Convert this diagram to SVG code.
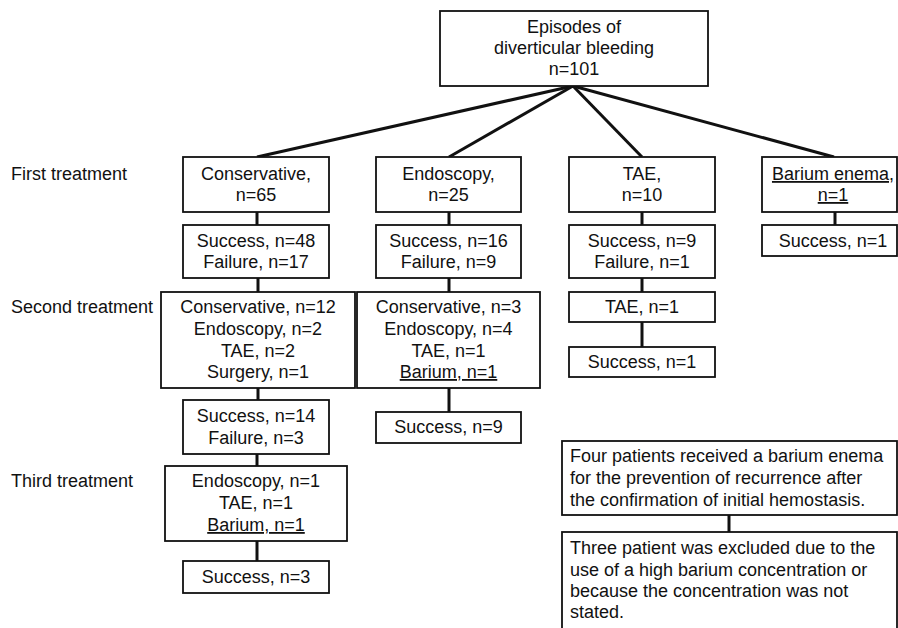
<svg xmlns="http://www.w3.org/2000/svg" width="898" height="628" viewBox="0 0 898 628">
<style>
  text { font-family: "Liberation Sans", Arial, sans-serif; font-size: 18px; fill: #111; }
  .c { text-anchor: middle; }
  .u { text-decoration: underline; }
  rect { fill: #fff; stroke: #111; stroke-width: 1.8; }
  .edge { stroke: #111; stroke-width: 3; fill: none; }
</style>
<rect x="0" y="0" width="898" height="628" style="fill:#fff;stroke:none"/>

<g id="connectors">
  <line class="edge" x1="573" y1="86" x2="257" y2="157"/>
  <line class="edge" x1="573" y1="86" x2="449" y2="157"/>
  <line class="edge" x1="573" y1="86" x2="642" y2="157"/>
  <line class="edge" x1="573" y1="86" x2="834" y2="157"/>
  <line class="edge" x1="257" y1="212" x2="257" y2="225"/>
  <line class="edge" x1="449" y1="212" x2="449" y2="225"/>
  <line class="edge" x1="642" y1="212" x2="642" y2="225"/>
  <line class="edge" x1="835" y1="212" x2="835" y2="225"/>
  <line class="edge" x1="258" y1="278" x2="258" y2="292"/>
  <line class="edge" x1="449" y1="278" x2="449" y2="292"/>
  <line class="edge" x1="642" y1="278" x2="642" y2="292"/>
  <line class="edge" x1="642" y1="322" x2="642" y2="347"/>
  <line class="edge" x1="258" y1="388" x2="258" y2="400"/>
  <line class="edge" x1="449" y1="388" x2="449" y2="412"/>
  <line class="edge" x1="257" y1="454" x2="257" y2="466"/>
  <line class="edge" x1="257" y1="541" x2="257" y2="561"/>
  <line class="edge" x1="729" y1="515" x2="729" y2="532"/>
</g>

<g id="labels">
  <text x="11" y="180">First treatment</text>
  <text x="11" y="313">Second treatment</text>
  <text x="11" y="487">Third treatment</text>
</g>

<g id="root">
  <rect x="440" y="11" width="268" height="75"/>
  <text class="c" x="574" y="33">Episodes of</text>
  <text class="c" x="574" y="54">diverticular bleeding</text>
  <text class="c" x="574" y="75">n=101</text>
</g>

<g id="conservative1">
  <rect x="183" y="157" width="146" height="55"/>
  <text class="c" x="256" y="180">Conservative,</text>
  <text class="c" x="256" y="201">n=65</text>
</g>
<g id="endoscopy1">
  <rect x="376" y="157" width="145" height="55"/>
  <text class="c" x="448.5" y="180">Endoscopy,</text>
  <text class="c" x="448.5" y="201">n=25</text>
</g>
<g id="tae1">
  <rect x="569" y="157" width="146" height="55"/>
  <text class="c" x="642" y="180">TAE,</text>
  <text class="c" x="642" y="201">n=10</text>
</g>
<g id="barium1">
  <rect x="762" y="157" width="135" height="55"/>
  <text class="c u" x="833" y="180">Barium enema,</text>
  <text class="c u" x="833" y="201">n=1</text>
</g>

<g id="conservative1-result">
  <rect x="183" y="225" width="146" height="53"/>
  <text class="c" x="256" y="247">Success, n=48</text>
  <text class="c" x="256" y="268">Failure, n=17</text>
</g>
<g id="endoscopy1-result">
  <rect x="376" y="225" width="145" height="53"/>
  <text class="c" x="448.5" y="247">Success, n=16</text>
  <text class="c" x="448.5" y="268">Failure, n=9</text>
</g>
<g id="tae1-result">
  <rect x="569" y="225" width="146" height="53"/>
  <text class="c" x="642" y="247">Success, n=9</text>
  <text class="c" x="642" y="268">Failure, n=1</text>
</g>
<g id="barium1-result">
  <rect x="762" y="225" width="135" height="31"/>
  <text class="c" x="833" y="247">Success, n=1</text>
</g>

<g id="conservative2">
  <rect x="161" y="292" width="194" height="96"/>
  <text class="c" x="258" y="313">Conservative, n=12</text>
  <text class="c" x="258" y="335">Endoscopy, n=2</text>
  <text class="c" x="258" y="357">TAE, n=2</text>
  <text class="c" x="258" y="378">Surgery, n=1</text>
</g>
<g id="endoscopy2">
  <rect x="357" y="292" width="183" height="96"/>
  <text class="c" x="448.5" y="313">Conservative, n=3</text>
  <text class="c" x="448.5" y="335">Endoscopy, n=4</text>
  <text class="c" x="448.5" y="357">TAE, n=1</text>
  <text class="c u" x="448.5" y="378">Barium, n=1</text>
</g>
<g id="tae2">
  <rect x="569" y="292" width="146" height="30"/>
  <text class="c" x="642" y="313">TAE, n=1</text>
</g>
<g id="tae2-result">
  <rect x="569" y="347" width="146" height="30"/>
  <text class="c" x="642" y="368">Success, n=1</text>
</g>

<g id="conservative2-result">
  <rect x="183" y="400" width="146" height="54"/>
  <text class="c" x="256" y="422">Success, n=14</text>
  <text class="c" x="256" y="444">Failure, n=3</text>
</g>
<g id="endoscopy2-result">
  <rect x="376" y="412" width="145" height="31"/>
  <text class="c" x="448.5" y="433">Success, n=9</text>
</g>

<g id="third">
  <rect x="165" y="466" width="182" height="75"/>
  <text class="c" x="256" y="487">Endoscopy, n=1</text>
  <text class="c" x="256" y="509">TAE, n=1</text>
  <text class="c u" x="256" y="531">Barium, n=1</text>
</g>
<g id="third-result">
  <rect x="183" y="561" width="146" height="32"/>
  <text class="c" x="256" y="583">Success, n=3</text>
</g>

<g id="note1">
  <rect x="562" y="441" width="335" height="74"/>
  <text x="570" y="462">Four patients received a barium enema</text>
  <text x="570" y="484">for the prevention of recurrence after</text>
  <text x="570" y="506">the confirmation of initial hemostasis.</text>
</g>
<g id="note2">
  <rect x="562" y="532" width="335" height="110"/>
  <text x="570" y="554">Three patient was excluded due to the</text>
  <text x="570" y="576">use of a high barium concentration or</text>
  <text x="570" y="597">because the concentration was not</text>
  <text x="570" y="618">stated.</text>
</g>
</svg>
